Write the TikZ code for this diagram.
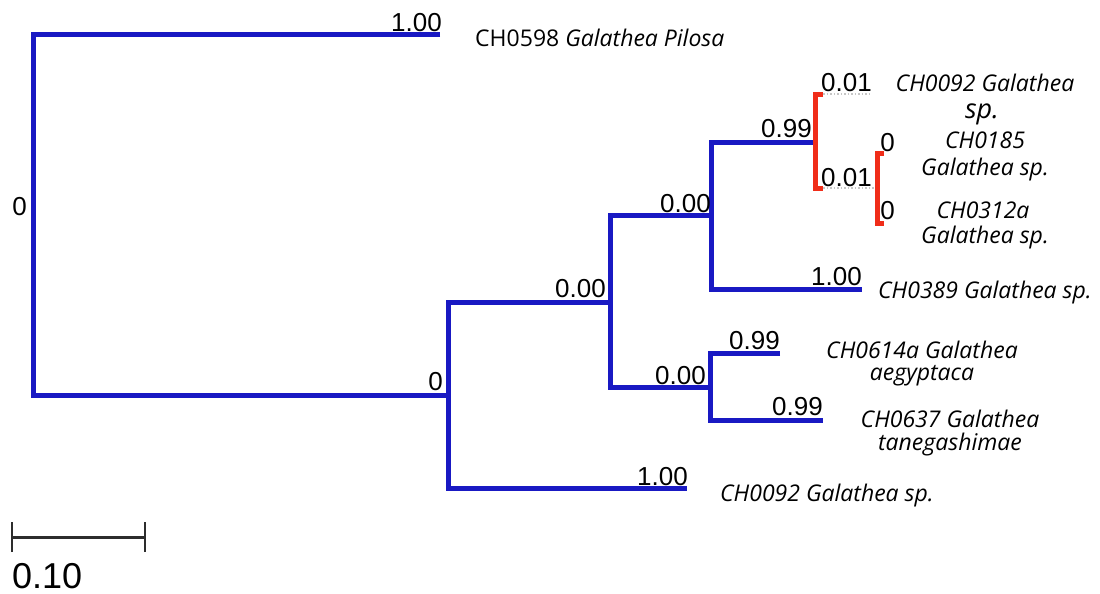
\documentclass[tikz,border=0pt]{standalone}
\usepackage{fontspec}
\setmainfont{Open Sans}
\newfontfamily\numfont{Liberation Sans}
\definecolor{treeblue}{RGB}{25,25,195}
\definecolor{treered}{RGB}{240,45,25}
\definecolor{bargray}{RGB}{45,45,45}
\begin{document}
\begin{tikzpicture}[x=1pt,y=-1pt,
  br/.style={draw=treeblue, line width=5pt, line join=miter},
  rb/.style={draw=treered, line width=5pt, line join=miter},
  dl/.style={draw=gray!45, line width=1.5pt, dotted},
  num/.style={font=\numfont\fontsize{26}{26}\selectfont, inner sep=0pt, anchor=base east},
  lab/.style={font=\itshape\fontsize{23}{23}\selectfont, inner sep=0pt, anchor=base},
  labw/.style={lab, anchor=base west},
]
\useasboundingbox (0,0) rectangle (1100,594);

% node coordinates
\coordinate (R1) at (33,35);   \coordinate (R2) at (33,395);
\coordinate (Lpil) at (440,35);
\coordinate (Amid) at (448,395);
\coordinate (A1) at (448,302); \coordinate (A2) at (448,488);
\coordinate (Lb92) at (687,488);
\coordinate (Bmid) at (610,302);
\coordinate (B1) at (610,215); \coordinate (B2) at (610,387);
\coordinate (Cmid) at (711,215);
\coordinate (C1) at (711,142); \coordinate (C2) at (711,289);
\coordinate (L389) at (862,289);
\coordinate (Dmid) at (710,387);
\coordinate (D1) at (710,353); \coordinate (D2) at (710,420);
\coordinate (L614) at (780,353); \coordinate (L637) at (823,420);
\coordinate (Emid) at (815,142);
\coordinate (E1) at (815,94);  \coordinate (E2) at (815,188);
\coordinate (Et1) at (823,94); \coordinate (Et2) at (823,188);
\coordinate (Ed1) at (872,94);
\coordinate (Fmid) at (877,188);
\coordinate (F1) at (877,153); \coordinate (F2) at (877,223);
\coordinate (Ft1) at (884,153); \coordinate (Ft2) at (884,223);

% blue branches
\draw[br] (Lpil) -- (R1) -- (R2) -- (Amid);
\draw[br] (Bmid) -- (A1) -- (A2) -- (Lb92);
\draw[br] (Cmid) -- (B1) -- (B2) -- (Dmid);
\draw[br] (Emid) -- (C1) -- (C2) -- (L389);
\draw[br] (L614) -- (D1) -- (D2) -- (L637);
% red branches
\draw[dl] (Et1) -- (Ed1);
\draw[dl] (Et2) -- (Fmid);
\draw[rb] (Et1) -- (E1) -- (E2) -- (Et2);
\draw[rb] (Ft1) -- (F1) -- (F2) -- (Ft2);

% support values
\node[num] (n1) at (442,32) {1.00};
\node[num] (n2) at (27,215) {0};
\node[num] (n3) at (443,390) {0};
\node[num] (n4) at (606,297) {0.00};
\node[num] (n5) at (688,485) {1.00};
\node[num] (n6) at (711,212) {0.00};
\node[num] (n7) at (706,384) {0.00};
\node[num] (n8) at (812,137) {0.99};
\node[num] (n9) at (872,92) {0.01};
\node[num] (n10) at (872,186) {0.01};
\node[num] (n11) at (895,151) {0};
\node[num] (n12) at (895,219) {0};
\node[num] (n13) at (862,285) {1.00};
\node[num] (n14) at (780,349) {0.99};
\node[num] (n15) at (823,415) {0.99};

% taxon labels
\node[labw, font=\upshape\fontsize{23}{23}\selectfont] (t598) at (475,47) {CH0598 \textit{Galathea Pilosa}};
\node[lab] (t92a) at (985,92) {CH0092 Galathea};
\node[lab, font=\itshape\fontsize{27}{27}\selectfont] (t92b) at (982,118) {sp.};
\node[lab] (t185a) at (985,148) {CH0185};
\node[lab] (t185b) at (985,175) {Galathea sp.};
\node[lab] (t312a) at (983,218) {CH0312a};
\node[lab] (t312b) at (985,243) {Galathea sp.};
\node[labw] (t389) at (878,298) {CH0389 Galathea sp.};
\node[lab] (t614a) at (922,358) {CH0614a Galathea};
\node[lab] (t614b) at (922,380) {aegyptaca};
\node[lab] (t637a) at (950,427) {CH0637 Galathea};
\node[lab] (t637b) at (950,450) {tanegashimae};
\node[labw] (t92c) at (720,501) {CH0092 Galathea sp.};

% scale bar
\coordinate (S1) at (12,537); \coordinate (S2) at (145,537);
\draw[bargray, line width=3pt] (S1) -- (S2);
\draw[bargray, line width=2pt] ([yshift=-15pt]S1) -- ([yshift=15pt]S1);
\draw[bargray, line width=2pt] ([yshift=-15pt]S2) -- ([yshift=15pt]S2);
\node[font=\numfont\fontsize{36}{36}\selectfont, inner sep=0pt, anchor=base west] (sb) at (12,588) {0.10};
\end{tikzpicture}
\end{document}
